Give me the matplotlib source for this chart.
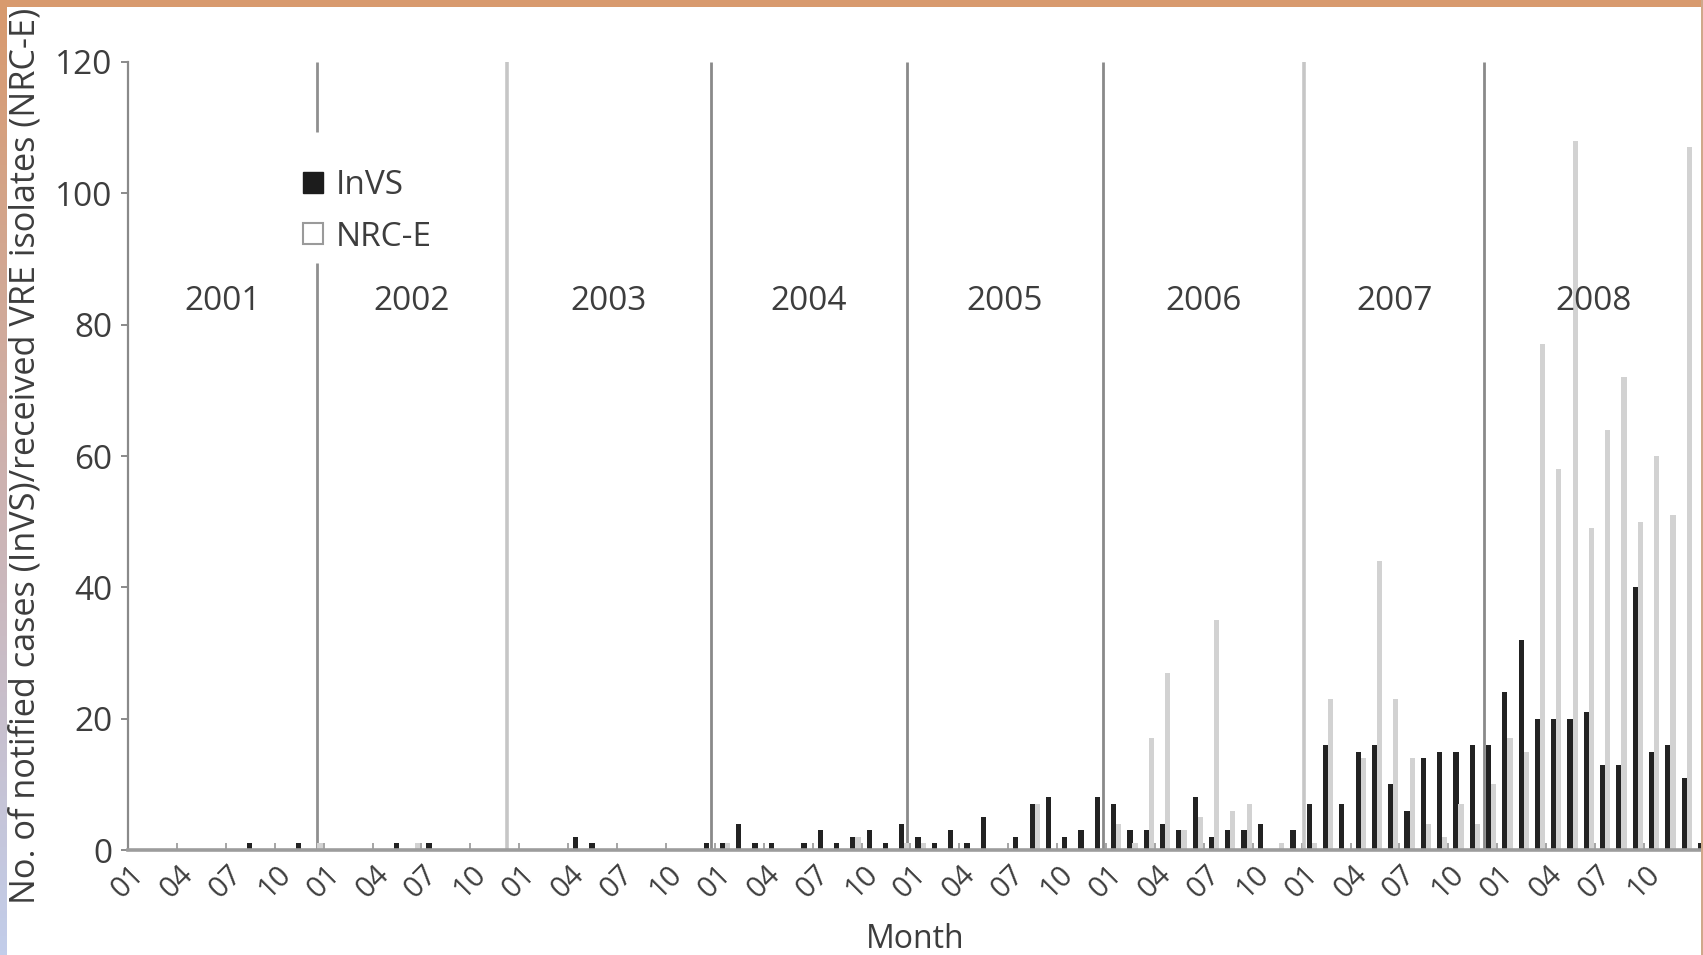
import numpy as np
import matplotlib
matplotlib.use("Agg")
import matplotlib.pyplot as plt
from matplotlib.patches import Patch, Rectangle
from matplotlib.colors import LinearSegmentedColormap

# ---- data: monthly counts, Jan 2001 .. Jan 2009 ----
years = ["2001", "2002", "2003", "2004", "2005", "2006", "2007", "2008"]
month_labels = ["01", "04", "07", "10"]

# notified cases (InVS)
invs_2001 = [0, 0, 0, 0, 0, 0, 0, 1, 0, 0, 1, 0]
invs_2002 = [0, 0, 0, 0, 1, 0, 1, 0, 0, 0, 0, 0]
invs_2003 = [0, 0, 0, 2, 1, 0, 0, 0, 0, 0, 0, 1]
invs_2004 = [1, 4, 1, 1, 0, 1, 3, 1, 2, 3, 1, 4]
invs_2005 = [2, 1, 3, 1, 5, 0, 2, 7, 8, 2, 3, 8]
invs_2006 = [7, 3, 3, 4, 3, 8, 2, 3, 3, 4, 0, 3]
invs_2007 = [7, 16, 7, 15, 16, 10, 6, 14, 15, 15, 16, 16]
invs_2008 = [24, 32, 20, 20, 20, 21, 13, 13, 40, 15, 16, 11]
invs_2009 = [1]

# received VRE isolates (NRC-E)
nrce_2001 = [0, 0, 0, 0, 0, 0, 0, 0, 0, 0, 0, 1]
nrce_2002 = [0, 0, 0, 0, 0, 1, 0, 0, 0, 0, 0, 0]
nrce_2003 = [0, 0, 0, 0, 0, 0, 0, 0, 0, 0, 0, 0]
nrce_2004 = [1, 0, 0, 0, 0, 0, 0, 0, 2, 0, 0, 1]
nrce_2005 = [1, 0, 0, 0, 0, 0, 0, 7, 0, 0, 0, 0]
nrce_2006 = [4, 1, 17, 27, 3, 5, 35, 6, 7, 0, 1, 0]
nrce_2007 = [1, 23, 0, 14, 44, 23, 14, 4, 2, 7, 4, 10]
nrce_2008 = [17, 15, 77, 58, 108, 49, 64, 72, 50, 60, 51, 107]
nrce_2009 = [0]

invs = np.array(invs_2001 + invs_2002 + invs_2003 + invs_2004 + invs_2005
                + invs_2006 + invs_2007 + invs_2008 + invs_2009, dtype=float)
nrce = np.array(nrce_2001 + nrce_2002 + nrce_2003 + nrce_2004 + nrce_2005
                + nrce_2006 + nrce_2007 + nrce_2008 + nrce_2009, dtype=float)

# ---- layout ----
W, H = 1703, 955
ax_left, ax_bottom_px, ax_top_px = 128, 850, 62
month_px = 16.3
year_breaks = [11.6, 23.25, 35.77, 47.8, 59.8, 72.15, 83.2]
break_colors = ["#8f8f8f", "#c6c6c6", "#8a8a8a", "#8a8a8a", "#8a8a8a",
                "#c6c6c6", "#8a8a8a"]
text_color = "#3d3d3d"

plt.rcParams["font.family"] = ["Open Sans", "DejaVu Sans"]

fig = plt.figure(figsize=(W / 100, H / 100), dpi=100)
fig.patch.set_facecolor("white")
ax = fig.add_axes([ax_left / W, 1 - ax_bottom_px / H, 1 - ax_left / W,
                   (ax_bottom_px - ax_top_px) / H])

xmax = (W - ax_left) / month_px
months = np.arange(len(invs))
ax.bar(months + 0.47, invs, width=0.32, color="#222222", linewidth=0, zorder=3)
ax.bar(months + 0.78, nrce, width=0.32, color="#d2d2d2", linewidth=0, zorder=3)

# year separators (the 2002 one leaves room for the legend)
for i, (xb, c) in enumerate(zip(year_breaks, break_colors)):
    if i == 0:
        ax.vlines(xb, 109.3, 120, color=c, lw=2.0, zorder=2)
        ax.vlines(xb, 0, 89.4, color=c, lw=2.0, zorder=2)
    else:
        ax.vlines(xb, 0, 120, color=c, lw=2.0 if c == "#8a8a8a" else 2.6, zorder=2)

# year names centred between separators
edges = [0.0] + year_breaks + [xmax]
for i, y in enumerate(years):
    ax.text((edges[i] + edges[i + 1]) / 2, 83.5, y, ha="center", va="center",
            fontsize=24, color=text_color)

ax.set_xlim(0, xmax)
ax.set_ylim(0, 120)

ax.set_xticks(np.arange(0, 96, 3))
ax.set_xticklabels(month_labels * len(years))
ax.tick_params(axis="x", direction="in", length=5, width=1.4, color="#a5a5a5",
               pad=7, labelsize=21, labelcolor=text_color, labelrotation=45)
for lab in ax.get_xticklabels():
    lab.set_ha("center")

ax.set_yticks(np.arange(0, 121, 20))
ax.tick_params(axis="y", direction="out", length=5, width=1.4, color="#8a8a8a",
               pad=6, labelsize=24, labelcolor=text_color)

for side in ("top", "right"):
    ax.spines[side].set_visible(False)
ax.spines["left"].set_color("#8a8a8a")
ax.spines["left"].set_linewidth(1.6)
ax.spines["bottom"].set_color("#9c9c9c")
ax.spines["bottom"].set_linewidth(2.6)
ax.spines["bottom"].set_zorder(4)

ax.set_ylabel("No. of notified cases (InVS)/received VRE isolates (NRC-E)",
              fontsize=24.7, color=text_color)
ax.yaxis.set_label_coords(-0.054, 0.5)
ax.set_xlabel("Month", fontsize=23, color=text_color, labelpad=14)

handles = [Patch(facecolor="#1c1c1c", edgecolor="#1c1c1c"),
           Patch(facecolor="white", edgecolor="#9a9a9a", linewidth=1.5)]
ax.legend(handles, ["InVS", "NRC-E"], loc="upper left",
          bbox_to_anchor=(0.111, 0.864), frameon=False, fontsize=24,
          handlelength=0.6, handleheight=0.6, handletextpad=0.4,
          labelspacing=0.55, borderpad=0, borderaxespad=0,
          labelcolor=text_color)

# page frame: tan band on top, graded strip on the left, thin line on the right
fig.patches.append(Rectangle((0, 1 - 7 / H), 1, 7 / H, transform=fig.transFigure,
                             facecolor="#d89a6e", edgecolor="none", zorder=10))
fig.patches.append(Rectangle((1 - 2 / W, 0), 2 / W, 1, transform=fig.transFigure,
                             facecolor="#cfa88a", edgecolor="none", zorder=10))
strip = fig.add_axes([0, 0, 7 / W, 1 - 7 / H])
strip.axis("off")
cmap = LinearSegmentedColormap.from_list(
    "frame", ["#d89a6e", "#cdb2b0", "#c2cdea"])
strip.imshow(np.linspace(0, 1, 256).reshape(-1, 1), aspect="auto", cmap=cmap,
             extent=[0, 1, 0, 1], origin="upper")

fig.savefig("out.png", dpi=100)
